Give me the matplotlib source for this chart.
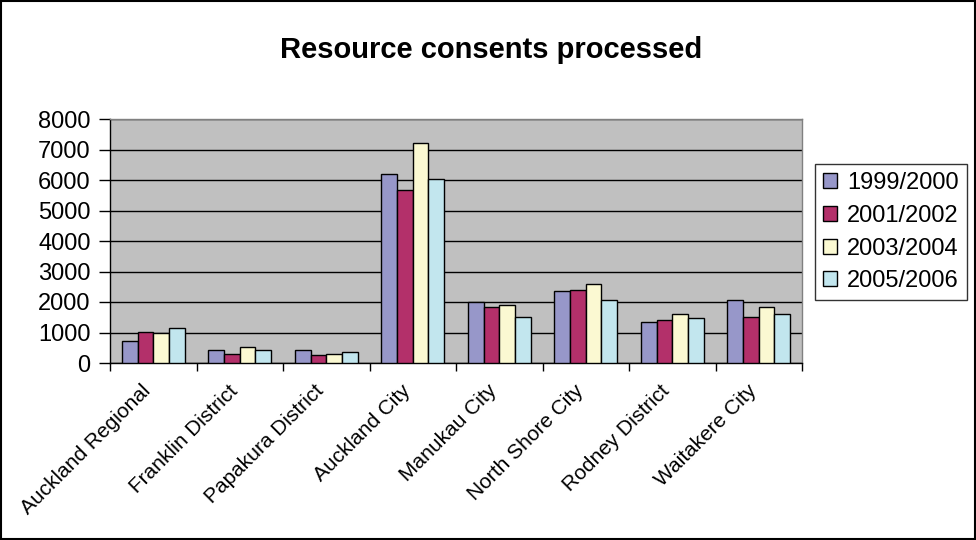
import matplotlib
matplotlib.use("Agg")
import matplotlib.pyplot as plt
import matplotlib.transforms as mtransforms
import numpy as np
from matplotlib.patches import Patch, Rectangle

plt.rcParams['font.family'] = ['Liberation Sans', 'DejaVu Sans']

categories = ["Auckland Regional", "Franklin District", "Papakura District", "Auckland City",
              "Manukau City", "North Shore City", "Rodney District", "Waitakere City"]
series_names = ["1999/2000", "2001/2002", "2003/2004", "2005/2006"]
v1999 = [710, 410, 410, 6190, 2000, 2350, 1340, 2080]
v2001 = [1020, 310, 260, 5660, 1820, 2400, 1420, 1510]
v2003 = [970, 540, 310, 7210, 1910, 2580, 1600, 1820]
v2005 = [1150, 440, 360, 6040, 1510, 2080, 1460, 1600]
yticks = [0, 1000, 2000, 3000, 4000, 5000, 6000, 7000, 8000]

series = [v1999, v2001, v2003, v2005]
colors = ['#9797C9', '#B3306A', '#FBF9D2', '#C2E6EE']

fig = plt.figure(figsize=(9.76, 5.4), dpi=100)
ax = fig.add_axes([110/976, 1-363/540, (802-110)/976, (363-119)/540])
ax.set_facecolor('#C0C0C0')

x = np.arange(len(categories))
bw = 0.182
for i, (vals, c) in enumerate(zip(series, colors)):
    ax.bar(x + (i - 1.5) * bw, vals, width=bw, color=c, edgecolor='black',
           linewidth=1.0, zorder=3, label=series_names[i])

ax.set_xlim(-0.5, len(categories) - 0.5)
ax.set_ylim(0, 8000)
ax.set_yticks(yticks)
ax.set_yticklabels([str(t) for t in yticks], fontsize=17)
ax.yaxis.grid(True, color='black', linewidth=1.0, zorder=1)
ax.set_axisbelow(True)

ax.set_xticks(x)
ax.set_xticklabels(categories, rotation=45, ha='right', rotation_mode='anchor', fontsize=15)
ax.tick_params(axis='x', which='major', length=0, pad=8)
offset = mtransforms.ScaledTranslation(-12/100, -7/100, fig.dpi_scale_trans)
for lbl in ax.get_xticklabels():
    lbl.set_transform(lbl.get_transform() + offset)
ax.set_xticks(np.arange(-0.5, len(categories) + 0.5, 1), minor=True)
ax.tick_params(axis='x', which='minor', length=6, width=1, color='black', direction='out')
ax.tick_params(axis='y', length=8, width=1, color='black', direction='out', pad=6)

for s in ['left', 'bottom']:
    ax.spines[s].set_color('black')
    ax.spines[s].set_linewidth(1.0)
for s in ['top', 'right']:
    ax.spines[s].set_color('#808080')
    ax.spines[s].set_linewidth(1.0)

fig.text(491/976, 1 - 50/540, "Resource consents processed", fontsize=21,
         fontweight='bold', ha='center', va='center')

handles = [Patch(facecolor=c, edgecolor='black', linewidth=1.0) for c in colors]
leg = fig.legend(handles, series_names, loc='upper left',
                 bbox_to_anchor=(815/976, 1 - 164/540), fontsize=17,
                 frameon=True, fancybox=False, edgecolor='black',
                 handlelength=0.6, handleheight=0.6, handletextpad=0.4,
                 labelspacing=0.45, borderpad=0.35, borderaxespad=0)
leg.get_frame().set_linewidth(1.0)

fig.patches.append(Rectangle((0.0008, 0.001), 0.998, 0.997, transform=fig.transFigure,
                             fill=False, edgecolor='black', linewidth=1.5))

fig.savefig("out.png", dpi=100, facecolor='white')
